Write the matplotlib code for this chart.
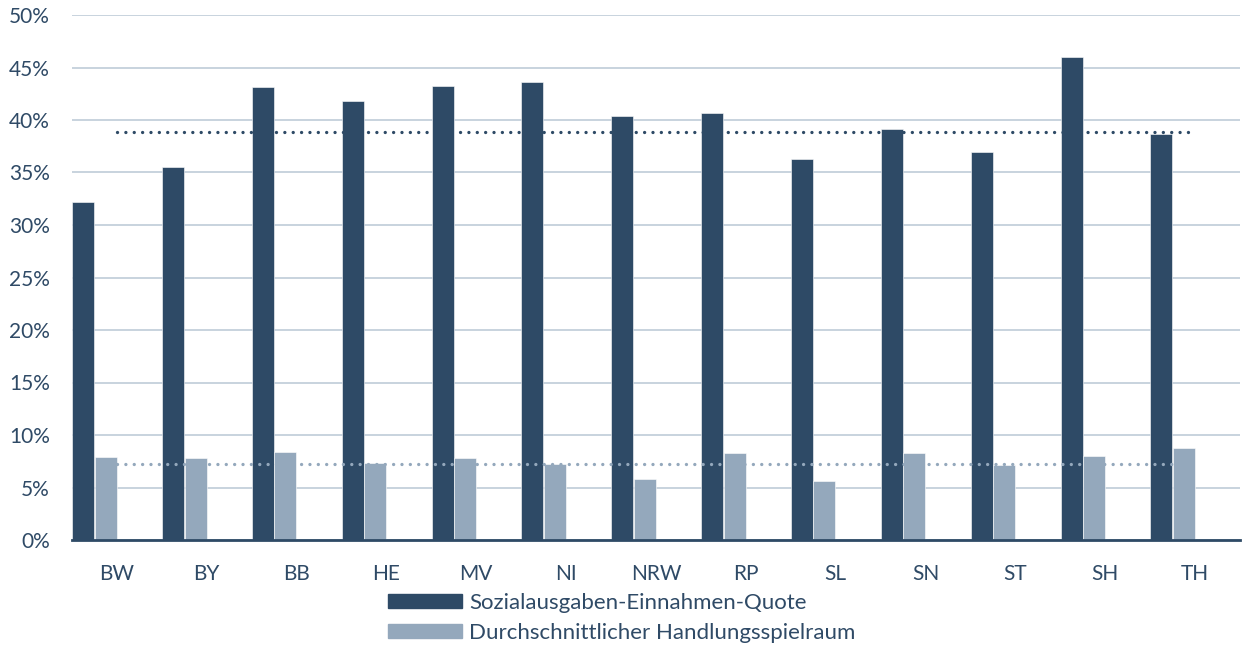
import matplotlib
matplotlib.use("Agg")
import matplotlib.pyplot as plt
from matplotlib.patches import Patch
import numpy as np

# Bundeslaender
laender = ["BW", "BY", "BB", "HE", "MV", "NI", "NRW", "RP", "SL", "SN", "ST", "SH", "TH"]
quote = [32.2, 35.5, 43.1, 41.8, 43.2, 43.6, 40.4, 40.7, 36.3, 39.1, 37.0, 46.0, 38.7]
spielraum = [7.9, 7.8, 8.4, 7.3, 7.8, 7.2, 5.8, 8.3, 5.6, 8.3, 7.1, 8.0, 8.8]
quote_avg = 38.9
spielraum_avg = 7.25

dark = "#2e4a66"
light = "#94a8bc"
textcol = "#2f4a66"
gridcol = "#c8d3de"

plt.rcParams["font.family"] = ["Lato", "DejaVu Sans"]

fig = plt.figure(figsize=(12.43, 6.45), dpi=100)
ax = fig.add_axes([72 / 1243, 105 / 645, 1168 / 1243, 525 / 645])

x = np.arange(len(laender))
w = 0.245
ax.bar(x - 0.375, np.array(quote) / 100, width=w, color=dark, edgecolor="white", linewidth=0.4, zorder=2)
ax.bar(x - 0.125, np.array(spielraum) / 100, width=w, color=light, edgecolor="white", linewidth=0.4, zorder=2)

# average lines (dotted)
dots = (0, (0.01, 2.5))
ax.plot([x[0], x[-1]], [quote_avg / 100] * 2, color=dark, lw=2.4, linestyle=dots,
        dash_capstyle="round", zorder=3)
ax.plot([x[0], x[-1]], [spielraum_avg / 100] * 2, color=light, lw=2.4, linestyle=dots,
        dash_capstyle="round", zorder=3)

ax.set_xlim(-0.5, len(laender) - 0.5)
ax.set_ylim(0, 0.5)
ax.set_yticks(np.arange(0, 0.51, 0.05))
ax.set_yticklabels([f"{int(round(v * 100))}%" for v in np.arange(0, 0.51, 0.05)])
ax.set_xticks(x)
ax.set_xticklabels(laender)
ax.tick_params(axis="both", length=0, labelsize=15, colors=textcol)
ax.tick_params(axis="y", pad=16)
ax.tick_params(axis="x", pad=17)

ax.yaxis.grid(True, color=gridcol, lw=1.4, zorder=0)
ax.set_axisbelow(True)
for s in ["top", "right", "left"]:
    ax.spines[s].set_visible(False)
ax.spines["bottom"].set_color(dark)
ax.spines["bottom"].set_linewidth(2)
ax.spines["bottom"].set_zorder(4)

handles = [Patch(color=dark, label="Sozialausgaben-Einnahmen-Quote"),
           Patch(color=light, label="Durchschnittlicher Handlungsspielraum")]
leg = fig.legend(handles=handles, loc="center", bbox_to_anchor=(622 / 1243, 27 / 645),
                 ncol=1, frameon=False, fontsize=16, handlelength=3.3, handleheight=0.55,
                 handletextpad=0.35, labelspacing=0.45, borderpad=0)
for t in leg.get_texts():
    t.set_color(textcol)

fig.savefig("out.png", dpi=100)
